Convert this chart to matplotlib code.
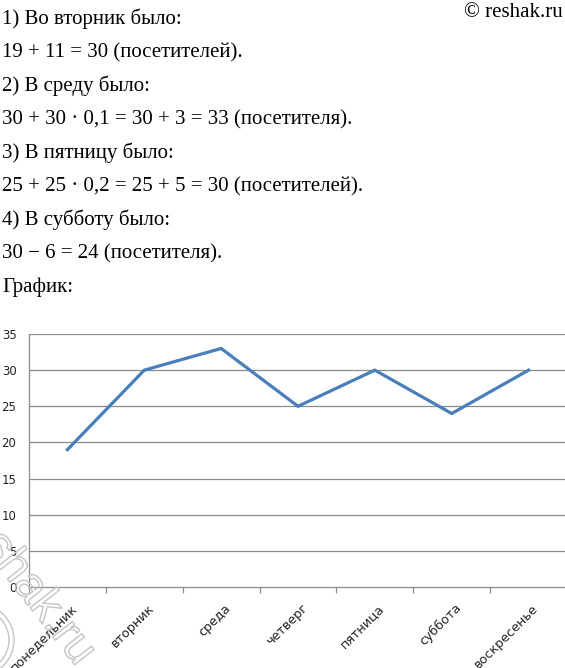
import matplotlib
matplotlib.use("Agg")
import matplotlib.pyplot as plt
import matplotlib.patheffects as pe
from matplotlib.patches import Circle

days = ["понедельник", "вторник", "среда", "четверг", "пятница", "суббота", "воскресенье"]
visitors = [19, 30, 33, 25, 30, 24, 30]
y_ticks = [0, 5, 10, 15, 20, 25, 30, 35]
lines = [
    "1) Во вторник было:",
    "19 + 11 = 30 (посетителей).",
    "2) В среду было:",
    "30 + 30 · 0,1 = 30 + 3 = 33 (посетителя).",
    "3) В пятницу было:",
    "25 + 25 · 0,2 = 25 + 5 = 30 (посетителей).",
    "4) В субботу было:",
    "30 − 6 = 24 (посетителя).",
    "График:",
]

W, H = 565, 668
fig = plt.figure(figsize=(W / 100, H / 100), dpi=100)

def fx(x):
    return x / W

def fy(y):
    return 1 - y / H

for i, t in enumerate(lines):
    fig.text(fx(2), fy(24 + 33.5 * i), t, family="Liberation Serif", fontsize=15,
             va="baseline", ha="left", color="black")
fig.text(fx(563), fy(17), "© reshak.ru", family="Liberation Serif", fontsize=15,
         va="baseline", ha="right", color="black")

left, right, top, bottom = 29, 567, 334, 587
ax = fig.add_axes([fx(left), fy(bottom), (right - left) / W, (bottom - top) / H])
x = list(range(len(days)))
ax.plot(x, visitors, color="#4A7EBB", linewidth=2.3, solid_joinstyle="miter", zorder=3)
ax.set_xlim(-0.5, len(days) - 0.5)
ax.set_ylim(0, 35)
ax.set_yticks(y_ticks)
ax.set_yticklabels([str(v) for v in y_ticks], fontsize=8.5, family="DejaVu Sans", color="#222222")
ax.tick_params(axis="y", length=0, pad=9)
for v in y_ticks[1:]:
    ax.axhline(v, color="#8c8c8c", linewidth=0.9, zorder=1)
ax.set_xticks([i + 0.5 for i in range(-1, len(days))], minor=False)
ax.set_xticklabels([])
ax.tick_params(axis="x", length=4, color="#8c8c8c", width=0.9, direction="out")
for i, d in enumerate(days):
    ax.text(i + 0.04, -2.0, d, rotation=45, ha="right", va="top", rotation_mode="anchor",
            fontsize=9.2, family="DejaVu Sans", color="#222222")
for s in ["top", "right"]:
    ax.spines[s].set_visible(False)
ax.spines["left"].set_color("#8c8c8c")
ax.spines["bottom"].set_color("#8c8c8c")
ax.spines["left"].set_linewidth(0.9)
ax.spines["bottom"].set_linewidth(0.9)
ax.set_facecolor("none")

# watermark (outlined)
wm = fig.text(fx(86), fy(660), "reshak.ru", family="Liberation Sans", fontsize=34,
              rotation=-52, rotation_mode="anchor", ha="right", va="center",
              color="none", zorder=10)
wm.set_path_effects([pe.Stroke(linewidth=1.0, foreground="#c4c4c4")])
for r in (34, 29):
    c = Circle((-20, 8), r, transform=fig.dpi_scale_trans, fill=False)
    c.remove() if False else None
circ_ax = fig.add_axes([0, 0, 1, 1], facecolor="none")
circ_ax.set_xlim(0, W)
circ_ax.set_ylim(H, 0)
circ_ax.axis("off")
for r in (36, 31):
    circ_ax.add_patch(Circle((-22, 640), r, fill=False, edgecolor="#c4c4c4", linewidth=1.0))

fig.savefig("out.png", dpi=100)
